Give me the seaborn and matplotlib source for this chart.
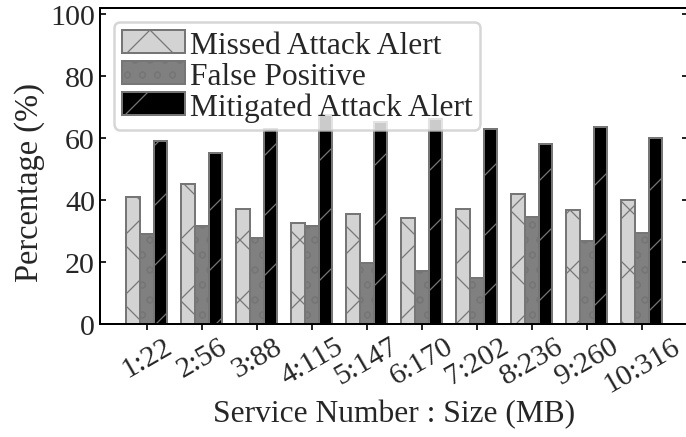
import matplotlib
matplotlib.use("Agg")
import matplotlib.pyplot as plt
import seaborn as sns
import pandas as pd

# Service labels ("number:size in MB") and the three measured percentages
services = ["1:22", "2:56", "3:88", "4:115", "5:147",
            "6:170", "7:202", "8:236", "9:260", "10:316"]
missed_attack = [41.1, 45.2, 37.2, 32.7, 35.4, 34.3, 37.2, 42.1, 36.8, 40.1]
false_positive = [29.0, 31.5, 27.7, 31.7, 19.6, 17.2, 14.7, 34.5, 26.9, 29.4]
mitigated_attack = [59.0, 55.3, 62.9, 67.5, 65.1, 66.1, 63.1, 58.2, 63.7, 60.1]

series_names = ["Missed Attack Alert", "False Positive", "Mitigated Attack Alert"]
y_ticks = [0, 20, 40, 60, 80, 100]

df = pd.DataFrame({
    "service": services * 3,
    "value": missed_attack + false_positive + mitigated_attack,
    "series": [series_names[0]] * len(services)
              + [series_names[1]] * len(services)
              + [series_names[2]] * len(services),
})

sns.set_style("white")
plt.rcParams["font.family"] = ["Liberation Serif", "DejaVu Serif"]
plt.rcParams["hatch.linewidth"] = 0.5

dpi = 180
fig = plt.figure(figsize=(686 / dpi, 438 / dpi), dpi=dpi)
ax = fig.add_axes([100 / 686, 1 - 325 / 438, 588 / 686, 316 / 438])

sns.barplot(data=df, x="service", y="value", hue="series",
            order=services, hue_order=series_names,
            width=0.75, ax=ax, legend=False)

faces = ["#d3d3d3", "#808080", "#000000"]
hatches = ["x", "oo", "/"]
edge = "#767676"
for cont, fc, h, name in zip(ax.containers, faces, hatches, series_names):
    for bar in cont:
        bar.set_facecolor(fc)
        bar.set_edgecolor(edge)
        bar.set_hatch(h)
        bar.set_linewidth(0.8)
    cont.set_label(name)

tick_fs = 12
ax.legend(handles=ax.containers, labels=series_names, loc="upper left",
          fontsize=12.6, handlelength=2.0, handleheight=0.75,
          handletextpad=0.15, labelspacing=0.05, borderpad=0.25,
          borderaxespad=0.45, fancybox=True)

ax.set_xlim(-0.85, 9.84)
ax.set_ylim(0, 102)
ax.set_yticks(y_ticks)
ax.set_xticks(range(len(services)))
ax.set_xticklabels(services, rotation=30, ha="center", fontsize=tick_fs)
ax.tick_params(axis="y", which="both", direction="in", left=True, right=True,
               length=2.5, width=0.8, labelsize=tick_fs, pad=2)
ax.tick_params(axis="x", direction="out", bottom=True, length=2.5, width=0.8, pad=1)

ax.set_xlabel("Service Number : Size (MB)", fontsize=12.6)
ax.set_ylabel("Percentage (%)", fontsize=13)
ax.xaxis.set_label_coords(0.5, -0.237)
ax.yaxis.set_label_coords(-0.094, 0.4525)

for sp in ax.spines.values():
    sp.set_color("black")
    sp.set_linewidth(0.8)

fig.savefig("out.png", dpi=dpi)
